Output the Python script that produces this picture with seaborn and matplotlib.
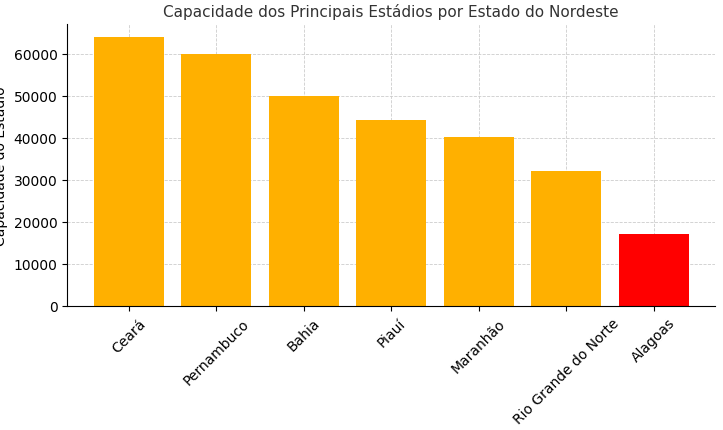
import pandas as pd
import seaborn as sns
import matplotlib.pyplot as plt

# Data
estados = ['Ceará', 'Pernambuco', 'Bahia', 'Piauí', 'Maranhão', 'Rio Grande do Norte', 'Alagoas']
capacidade = [63900, 60000, 50000, 44200, 40150, 32000, 17100]
cores = ['#FFB000', '#FFB000', '#FFB000', '#FFB000', '#FFB000', '#FFB000', '#FF0000']

df = pd.DataFrame({'Estado': estados, 'Capacidade': capacidade})

fig, ax = plt.subplots(figsize=(7.23, 4.31), dpi=100)
sns.barplot(data=df, x='Estado', y='Capacidade', hue='Estado', palette=cores,
            legend=False, width=0.8, saturation=1, ax=ax)

ax.set_title('Capacidade dos Principais Estádios por Estado do Nordeste', fontsize=11, color='#333333')
ax.set_xlabel('Estado', fontsize=10)
ax.set_ylabel('Capacidade do Estádio', fontsize=10)
ax.set_xlim(-0.7, 6.7)
ax.grid(True, linestyle='--', linewidth=0.6, color='#cccccc')
ax.set_axisbelow(True)
ax.spines['top'].set_visible(False)
ax.spines['right'].set_visible(False)
plt.xticks(rotation=45)
ax.tick_params(labelsize=10)

fig.subplots_adjust(left=0.093, right=0.989, top=0.942, bottom=0.288)
fig.savefig('out.png')
